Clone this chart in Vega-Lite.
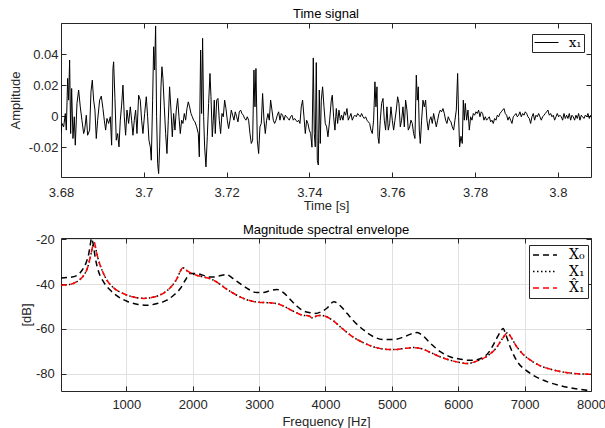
{
"$schema":"https://vega.github.io/schema/vega-lite/v6.json",
"padding":{"left":9,"top":7,"right":0,"bottom":0},
"background":"white",
"config":{
 "view":{"stroke":null},
 "font":"Liberation Sans",
 "axis":{"labelFont":"Liberation Sans","labelFontSize":13,"labelColor":"#262626","titleFont":"Liberation Sans","titleFontSize":13,"titleFontWeight":"normal","titleColor":"#262626","tickColor":"#262626","domainColor":"#262626","tickSize":-5,"grid":false,"labelFlush":false},
 "title":{"font":"Liberation Sans","fontSize":13,"fontWeight":"normal","color":"#000000","offset":7,"frame":"group"}
},
"datasets":{
"sig":[
{"t":3.68,"a":-0.0112},{"t":3.68023,"a":-0.0047},{"t":3.68064,"a":-0.0069},{"t":3.68104,"a":0.0017},{"t":3.68128,"a":-0.009},{"t":3.6816,"a":0.0243},{"t":3.68184,"a":0.0103},{"t":3.68208,"a":0.0361},{"t":3.68233,"a":-0.0112},{"t":3.68257,"a":0.0178},{"t":3.68289,"a":-0.0144},{"t":3.68321,"a":-0.0004},{"t":3.68345,"a":-0.0187},{"t":3.68386,"a":0.0082},{"t":3.68426,"a":0.0168},{"t":3.68466,"a":0.006},{"t":3.68506,"a":-0.0026},{"t":3.68547,"a":-0.0112},{"t":3.68571,"a":-0.009},{"t":3.68611,"a":0.0006},{"t":3.68643,"a":-0.0123},{"t":3.68691,"a":-0.009},{"t":3.68724,"a":0.0157},{"t":3.68756,"a":0.0232},{"t":3.68788,"a":0.0103},{"t":3.6882,"a":0.0039},{"t":3.68852,"a":-0.0144},{"t":3.68885,"a":-0.0026},{"t":3.68933,"a":0.0103},{"t":3.68973,"a":0.0129},{"t":3.69013,"a":0.0049},{"t":3.69046,"a":-0.0026},{"t":3.69078,"a":-0.009},{"t":3.6911,"a":-0.0015},{"t":3.6915,"a":-0.0047},{"t":3.69191,"a":-0.0004},{"t":3.69223,"a":-0.0187},{"t":3.69255,"a":0.0307},{"t":3.69271,"a":0.035},{"t":3.69303,"a":0.0114},{"t":3.69335,"a":-0.0155},{"t":3.69368,"a":-0.0112},{"t":3.694,"a":-0.0198},{"t":3.69432,"a":-0.0026},{"t":3.69464,"a":0.0071},{"t":3.69496,"a":0.02},{"t":3.69529,"a":-0.0004},{"t":3.69561,"a":-0.0123},{"t":3.69593,"a":0.0039},{"t":3.69633,"a":-0.0047},{"t":3.69674,"a":0.006},{"t":3.69706,"a":-0.0026},{"t":3.69738,"a":-0.0123},{"t":3.6977,"a":-0.0026},{"t":3.69802,"a":0.0039},{"t":3.69835,"a":-0.0112},{"t":3.69875,"a":0.0135},{"t":3.69915,"a":0.0103},{"t":3.69947,"a":-0.0026},{"t":3.69979,"a":-0.0112},{"t":3.7002,"a":0.0017},{"t":3.7006,"a":0.0125},{"t":3.70092,"a":-0.0004},{"t":3.70124,"a":-0.0155},{"t":3.70157,"a":-0.0198},{"t":3.70181,"a":-0.0284},{"t":3.70213,"a":0.0103},{"t":3.70237,"a":0.0447},{"t":3.70261,"a":0.0297},{"t":3.70285,"a":0.0581},{"t":3.70309,"a":-0.0004},{"t":3.70334,"a":-0.0305},{"t":3.70358,"a":-0.037},{"t":3.70382,"a":-0.0198},{"t":3.70414,"a":0.0189},{"t":3.70438,"a":0.0318},{"t":3.70462,"a":0.0243},{"t":3.70495,"a":0.006},{"t":3.70527,"a":-0.0112},{"t":3.70559,"a":-0.0241},{"t":3.70591,"a":-0.0026},{"t":3.70623,"a":0.0189},{"t":3.70656,"a":0.0039},{"t":3.70688,"a":-0.0133},{"t":3.7072,"a":0.0017},{"t":3.70752,"a":-0.009},{"t":3.70784,"a":0.0039},{"t":3.70817,"a":0.0114},{"t":3.70849,"a":-0.0004},{"t":3.70881,"a":-0.0112},{"t":3.70913,"a":-0.0026},{"t":3.70945,"a":-0.0047},{"t":3.70978,"a":0.0017},{"t":3.7101,"a":-0.0026},{"t":3.71042,"a":0.0049},{"t":3.71074,"a":0.0092},{"t":3.71106,"a":0.006},{"t":3.71139,"a":0.0017},{"t":3.71171,"a":-0.0004},{"t":3.71203,"a":-0.0026},{"t":3.71235,"a":-0.0037},{"t":3.71276,"a":-0.0069},{"t":3.71316,"a":-0.0112},{"t":3.7134,"a":-0.0262},{"t":3.71372,"a":0.0426},{"t":3.71396,"a":0.0017},{"t":3.7142,"a":0.0501},{"t":3.71445,"a":-0.0004},{"t":3.71469,"a":-0.0198},{"t":3.71501,"a":-0.0327},{"t":3.71533,"a":-0.0133},{"t":3.71565,"a":0.0082},{"t":3.71598,"a":0.0275},{"t":3.71622,"a":0.0125},{"t":3.71654,"a":-0.0133},{"t":3.71678,"a":-0.0026},{"t":3.71702,"a":0.0103},{"t":3.71726,"a":-0.0112},{"t":3.71759,"a":0.0103},{"t":3.71791,"a":0.0114},{"t":3.71823,"a":-0.0026},{"t":3.71855,"a":-0.0112},{"t":3.71887,"a":0.0017},{"t":3.7192,"a":-0.0004},{"t":3.71952,"a":0.0103},{"t":3.71984,"a":0.0049},{"t":3.72016,"a":-0.0026},{"t":3.72048,"a":-0.008},{"t":3.72081,"a":-0.0026},{"t":3.72113,"a":0.0039},{"t":3.72145,"a":0.0006},{"t":3.72177,"a":-0.0026},{"t":3.72209,"a":0.0028},{"t":3.72242,"a":-0.0004},{"t":3.72274,"a":-0.0037},{"t":3.72306,"a":0.0028},{"t":3.72338,"a":0.0039},{"t":3.7237,"a":0.0017},{"t":3.72403,"a":0.0006},{"t":3.72435,"a":-0.0015},{"t":3.72467,"a":-0.0026},{"t":3.72499,"a":-0.0004},{"t":3.72531,"a":-0.0026},{"t":3.72564,"a":-0.0112},{"t":3.72596,"a":-0.0176},{"t":3.72628,"a":-0.0155},{"t":3.7266,"a":0.0297},{"t":3.72684,"a":0.006},{"t":3.72708,"a":0.0307},{"t":3.72741,"a":-0.0155},{"t":3.72773,"a":-0.0241},{"t":3.72805,"a":-0.0069},{"t":3.72837,"a":-0.0047},{"t":3.72869,"a":0.0146},{"t":3.72902,"a":-0.0026},{"t":3.72934,"a":-0.0112},{"t":3.72966,"a":-0.0026},{"t":3.72998,"a":0.0017},{"t":3.7303,"a":-0.0026},{"t":3.73063,"a":0.0103},{"t":3.73095,"a":0.0039},{"t":3.73127,"a":-0.0026},{"t":3.73159,"a":-0.0047},{"t":3.73191,"a":-0.0026},{"t":3.73224,"a":0.0006},{"t":3.73256,"a":0.0028},{"t":3.73288,"a":-0.0026},{"t":3.7332,"a":0.0017},{"t":3.73352,"a":0.0006},{"t":3.73385,"a":-0.0026},{"t":3.73417,"a":0.0006},{"t":3.73449,"a":-0.0004},{"t":3.73481,"a":-0.0015},{"t":3.73513,"a":-0.0026},{"t":3.73546,"a":-0.0004},{"t":3.73578,"a":0.0006},{"t":3.7361,"a":-0.0026},{"t":3.73642,"a":-0.0015},{"t":3.73674,"a":-0.0026},{"t":3.73707,"a":-0.0037},{"t":3.73739,"a":-0.0026},{"t":3.73771,"a":-0.0047},{"t":3.73803,"a":0.006},{"t":3.73835,"a":0.0103},{"t":3.73868,"a":-0.0004},{"t":3.739,"a":-0.0112},{"t":3.73932,"a":-0.0026},{"t":3.73964,"a":-0.0047},{"t":3.73996,"a":-0.009},{"t":3.74029,"a":-0.0112},{"t":3.74061,"a":-0.02},{"t":3.74093,"a":0.0375},{"t":3.74117,"a":-0.0112},{"t":3.74141,"a":-0.0198},{"t":3.74165,"a":0.0345},{"t":3.7419,"a":-0.0284},{"t":3.74214,"a":-0.0315},{"t":3.74238,"a":0.0168},{"t":3.74262,"a":-0.0176},{"t":3.74286,"a":0.0103},{"t":3.74318,"a":0.0189},{"t":3.74351,"a":0.006},{"t":3.74383,"a":-0.0047},{"t":3.74415,"a":-0.0069},{"t":3.74447,"a":-0.0133},{"t":3.74488,"a":-0.0026},{"t":3.74528,"a":0.0103},{"t":3.74552,"a":0.0135},{"t":3.74584,"a":-0.0004},{"t":3.74616,"a":-0.009},{"t":3.74649,"a":0.0049},{"t":3.74681,"a":-0.0047},{"t":3.74713,"a":0.0039},{"t":3.74745,"a":-0.0026},{"t":3.74777,"a":0.0006},{"t":3.7481,"a":-0.0026},{"t":3.74842,"a":0.0028},{"t":3.74874,"a":0.0006},{"t":3.74906,"a":0.0049},{"t":3.74938,"a":-0.0026},{"t":3.74971,"a":-0.0004},{"t":3.75003,"a":0.0017},{"t":3.75035,"a":-0.0026},{"t":3.75067,"a":-0.0004},{"t":3.75099,"a":0.0006},{"t":3.75132,"a":-0.0004},{"t":3.75164,"a":0.0017},{"t":3.75196,"a":0.0006},{"t":3.75228,"a":-0.0004},{"t":3.7526,"a":0.0017},{"t":3.75293,"a":-0.0004},{"t":3.75325,"a":-0.0015},{"t":3.75357,"a":-0.0004},{"t":3.75389,"a":-0.0026},{"t":3.75421,"a":-0.0037},{"t":3.75454,"a":-0.0047},{"t":3.75486,"a":-0.009},{"t":3.75518,"a":-0.0112},{"t":3.7555,"a":-0.0026},{"t":3.75582,"a":0.0221},{"t":3.75606,"a":0.006},{"t":3.75631,"a":0.0189},{"t":3.75655,"a":-0.0133},{"t":3.75679,"a":-0.0176},{"t":3.75711,"a":-0.0026},{"t":3.75743,"a":0.0082},{"t":3.75776,"a":0.0114},{"t":3.75808,"a":-0.0026},{"t":3.7584,"a":-0.009},{"t":3.75872,"a":0.006},{"t":3.75904,"a":-0.009},{"t":3.75937,"a":-0.0047},{"t":3.75969,"a":0.006},{"t":3.76001,"a":-0.0026},{"t":3.76033,"a":-0.009},{"t":3.76065,"a":-0.0026},{"t":3.76098,"a":0.0039},{"t":3.7613,"a":0.0125},{"t":3.76162,"a":0.0082},{"t":3.76194,"a":-0.0069},{"t":3.76226,"a":-0.0026},{"t":3.76259,"a":0.006},{"t":3.76291,"a":-0.0069},{"t":3.76323,"a":0.0103},{"t":3.76355,"a":0.0039},{"t":3.76387,"a":-0.009},{"t":3.7642,"a":-0.0069},{"t":3.76452,"a":-0.0026},{"t":3.76484,"a":-0.0047},{"t":3.76516,"a":-0.0112},{"t":3.76548,"a":-0.0144},{"t":3.76581,"a":0.0264},{"t":3.76605,"a":0.0103},{"t":3.76629,"a":0.0189},{"t":3.76653,"a":-0.009},{"t":3.76677,"a":-0.0176},{"t":3.76709,"a":-0.0026},{"t":3.76742,"a":0.0103},{"t":3.76774,"a":0.006},{"t":3.76806,"a":0.0103},{"t":3.76838,"a":-0.0026},{"t":3.7687,"a":-0.009},{"t":3.76903,"a":-0.0026},{"t":3.76935,"a":-0.0004},{"t":3.76967,"a":-0.0047},{"t":3.76999,"a":0.0017},{"t":3.77031,"a":-0.0026},{"t":3.77064,"a":-0.0069},{"t":3.77096,"a":-0.0026},{"t":3.77128,"a":0.0017},{"t":3.7716,"a":0.0039},{"t":3.77192,"a":0.0028},{"t":3.77225,"a":0.0049},{"t":3.77257,"a":0.0017},{"t":3.77289,"a":-0.0026},{"t":3.77321,"a":-0.0047},{"t":3.77353,"a":-0.0004},{"t":3.77386,"a":-0.0026},{"t":3.77418,"a":-0.0037},{"t":3.7745,"a":-0.0069},{"t":3.77482,"a":-0.009},{"t":3.77514,"a":-0.0026},{"t":3.77547,"a":0.0039},{"t":3.77579,"a":0.0275},{"t":3.77603,"a":-0.0004},{"t":3.77627,"a":-0.0198},{"t":3.7766,"a":-0.013},{"t":3.77691,"a":-0.0176},{"t":3.77716,"a":0.0103},{"t":3.7774,"a":-0.0026},{"t":3.77764,"a":0.0082},{"t":3.77796,"a":-0.0026},{"t":3.77828,"a":0.0039},{"t":3.77861,"a":-0.009},{"t":3.77893,"a":-0.0004},{"t":3.77925,"a":-0.0026},{"t":3.77957,"a":0.0017},{"t":3.77989,"a":0.0006},{"t":3.78022,"a":0.0028},{"t":3.78054,"a":0.0017},{"t":3.78086,"a":0.0039},{"t":3.78118,"a":-0.0004},{"t":3.7815,"a":0.0028},{"t":3.78183,"a":0.0017},{"t":3.78215,"a":-0.0026},{"t":3.78247,"a":-0.0004},{"t":3.78279,"a":-0.0026},{"t":3.78311,"a":-0.0015},{"t":3.78344,"a":-0.0004},{"t":3.78376,"a":-0.0037},{"t":3.78408,"a":-0.0026},{"t":3.7844,"a":-0.0047},{"t":3.78472,"a":-0.0015},{"t":3.78505,"a":-0.0026},{"t":3.78537,"a":0.0006},{"t":3.78569,"a":-0.0004},{"t":3.78601,"a":0.0017},{"t":3.78633,"a":0.0028},{"t":3.78666,"a":0.0039},{"t":3.78698,"a":0.0049},{"t":3.7873,"a":0.0017},{"t":3.78762,"a":0.0006},{"t":3.78794,"a":-0.0026},{"t":3.78827,"a":-0.0004},{"t":3.78859,"a":-0.0026},{"t":3.78891,"a":-0.0047},{"t":3.78923,"a":-0.0004},{"t":3.78955,"a":0.0006},{"t":3.78988,"a":0.0017},{"t":3.7902,"a":-0.0004},{"t":3.79052,"a":0.0006},{"t":3.79084,"a":0.0028},{"t":3.79116,"a":-0.0004},{"t":3.79149,"a":0.0017},{"t":3.79181,"a":0.0006},{"t":3.79213,"a":0.0028},{"t":3.79245,"a":0.0017},{"t":3.79277,"a":-0.0004},{"t":3.7931,"a":-0.0015},{"t":3.79342,"a":-0.0047},{"t":3.79374,"a":-0.0004},{"t":3.79406,"a":0.0017},{"t":3.79438,"a":-0.0026},{"t":3.79471,"a":0.0006},{"t":3.79503,"a":-0.0004},{"t":3.79535,"a":0.0017},{"t":3.79567,"a":-0.0004},{"t":3.79599,"a":-0.0026},{"t":3.79632,"a":-0.0004},{"t":3.79664,"a":0.0006},{"t":3.79696,"a":0.0017},{"t":3.79728,"a":0.0028},{"t":3.7976,"a":0.0039},{"t":3.79793,"a":0.0006},{"t":3.79825,"a":0.0017},{"t":3.79857,"a":-0.0004},{"t":3.79889,"a":0.0006},{"t":3.79921,"a":-0.0026},{"t":3.79954,"a":-0.0004},{"t":3.79986,"a":0.0017},{"t":3.80018,"a":-0.0004},{"t":3.8005,"a":0.0006},{"t":3.80082,"a":-0.0004},{"t":3.80115,"a":-0.0026},{"t":3.80147,"a":0.0017},{"t":3.80179,"a":-0.0015},{"t":3.80211,"a":0.0006},{"t":3.80243,"a":-0.0015},{"t":3.80276,"a":0.0017},{"t":3.80308,"a":-0.0026},{"t":3.8034,"a":0.0006},{"t":3.80372,"a":-0.0004},{"t":3.80404,"a":-0.0026},{"t":3.80437,"a":0.0006},{"t":3.80469,"a":-0.0015},{"t":3.80501,"a":0.0017},{"t":3.80533,"a":-0.0026},{"t":3.80565,"a":0.0006},{"t":3.80598,"a":-0.0004},{"t":3.8063,"a":-0.0015},{"t":3.80662,"a":0.0006},{"t":3.80694,"a":-0.0004},{"t":3.80726,"a":0.0017},{"t":3.80759,"a":-0.0015},{"t":3.80791,"a":0.0006}
],
"env":[
{"f":15.6,"v":-37.3,"s":"X\u2080"},{"f":100,"v":-37.1,"s":"X\u2080"},{"f":158,"v":-37.0,"s":"X\u2080"},{"f":258,"v":-36.1,"s":"X\u2080"},{"f":333,"v":-33.8,"s":"X\u2080"},{"f":398,"v":-30.1,"s":"X\u2080"},{"f":434,"v":-26.4,"s":"X\u2080"},{"f":459,"v":-21.9,"s":"X\u2080"},{"f":474,"v":-19.5,"s":"X\u2080"},{"f":499,"v":-21.9,"s":"X\u2080"},{"f":534,"v":-28.6,"s":"X\u2080"},{"f":584,"v":-34.6,"s":"X\u2080"},{"f":659,"v":-39.1,"s":"X\u2080"},{"f":760,"v":-42.8,"s":"X\u2080"},{"f":860,"v":-45.3,"s":"X\u2080"},{"f":1010,"v":-47.7,"s":"X\u2080"},{"f":1160,"v":-49.0,"s":"X\u2080"},{"f":1311,"v":-49.5,"s":"X\u2080"},{"f":1461,"v":-48.7,"s":"X\u2080"},{"f":1611,"v":-47.2,"s":"X\u2080"},{"f":1712,"v":-45.0,"s":"X\u2080"},{"f":1812,"v":-42.0,"s":"X\u2080"},{"f":1887,"v":-38.3,"s":"X\u2080"},{"f":1962,"v":-35.3,"s":"X\u2080"},{"f":2063,"v":-35.3,"s":"X\u2080"},{"f":2150,"v":-36.0,"s":"X\u2080"},{"f":2250,"v":-36.8,"s":"X\u2080"},{"f":2330,"v":-36.8,"s":"X\u2080"},{"f":2420,"v":-36.2,"s":"X\u2080"},{"f":2510,"v":-35.8,"s":"X\u2080"},{"f":2610,"v":-37.6,"s":"X\u2080"},{"f":2715,"v":-39.8,"s":"X\u2080"},{"f":2840,"v":-42.3,"s":"X\u2080"},{"f":2964,"v":-43.8,"s":"X\u2080"},{"f":3065,"v":-43.8,"s":"X\u2080"},{"f":3165,"v":-42.9,"s":"X\u2080"},{"f":3265,"v":-42.4,"s":"X\u2080"},{"f":3366,"v":-43.8,"s":"X\u2080"},{"f":3466,"v":-46.8,"s":"X\u2080"},{"f":3567,"v":-49.8,"s":"X\u2080"},{"f":3667,"v":-52.0,"s":"X\u2080"},{"f":3767,"v":-52.8,"s":"X\u2080"},{"f":3850,"v":-53.1,"s":"X\u2080"},{"f":3925,"v":-52.5,"s":"X\u2080"},{"f":4025,"v":-50.7,"s":"X\u2080"},{"f":4126,"v":-47.9,"s":"X\u2080"},{"f":4226,"v":-49.8,"s":"X\u2080"},{"f":4327,"v":-53.2,"s":"X\u2080"},{"f":4428,"v":-56.6,"s":"X\u2080"},{"f":4578,"v":-60.6,"s":"X\u2080"},{"f":4729,"v":-63.6,"s":"X\u2080"},{"f":4880,"v":-64.8,"s":"X\u2080"},{"f":5031,"v":-64.8,"s":"X\u2080"},{"f":5182,"v":-63.6,"s":"X\u2080"},{"f":5308,"v":-62.1,"s":"X\u2080"},{"f":5383,"v":-61.7,"s":"X\u2080"},{"f":5459,"v":-62.9,"s":"X\u2080"},{"f":5584,"v":-66.6,"s":"X\u2080"},{"f":5735,"v":-70.3,"s":"X\u2080"},{"f":5886,"v":-72.6,"s":"X\u2080"},{"f":6037,"v":-73.6,"s":"X\u2080"},{"f":6188,"v":-74.1,"s":"X\u2080"},{"f":6339,"v":-73.3,"s":"X\u2080"},{"f":6465,"v":-70.3,"s":"X\u2080"},{"f":6565,"v":-65.1,"s":"X\u2080"},{"f":6640,"v":-61.1,"s":"X\u2080"},{"f":6676,"v":-59.9,"s":"X\u2080"},{"f":6716,"v":-62.6,"s":"X\u2080"},{"f":6792,"v":-68.8,"s":"X\u2080"},{"f":6892,"v":-74.8,"s":"X\u2080"},{"f":7018,"v":-78.5,"s":"X\u2080"},{"f":7144,"v":-81.0,"s":"X\u2080"},{"f":7345,"v":-83.7,"s":"X\u2080"},{"f":7546,"v":-85.5,"s":"X\u2080"},{"f":7747,"v":-86.7,"s":"X\u2080"},{"f":8000,"v":-87.7,"s":"X\u2080"},
{"f":15.6,"v":-40.5,"s":"X\u2081"},{"f":158,"v":-40.1,"s":"X\u2081"},{"f":283,"v":-38.3,"s":"X\u2081"},{"f":358,"v":-36.1,"s":"X\u2081"},{"f":419,"v":-32.4,"s":"X\u2081"},{"f":469,"v":-26.4,"s":"X\u2081"},{"f":499,"v":-22.4,"s":"X\u2081"},{"f":519,"v":-21.5,"s":"X\u2081"},{"f":539,"v":-24.2,"s":"X\u2081"},{"f":574,"v":-28.6,"s":"X\u2081"},{"f":634,"v":-33.8,"s":"X\u2081"},{"f":709,"v":-38.3,"s":"X\u2081"},{"f":810,"v":-41.7,"s":"X\u2081"},{"f":960,"v":-44.3,"s":"X\u2081"},{"f":1110,"v":-45.8,"s":"X\u2081"},{"f":1261,"v":-46.4,"s":"X\u2081"},{"f":1411,"v":-45.8,"s":"X\u2081"},{"f":1562,"v":-44.0,"s":"X\u2081"},{"f":1687,"v":-40.8,"s":"X\u2081"},{"f":1762,"v":-37.6,"s":"X\u2081"},{"f":1812,"v":-34.3,"s":"X\u2081"},{"f":1852,"v":-32.7,"s":"X\u2081"},{"f":1902,"v":-33.8,"s":"X\u2081"},{"f":1987,"v":-35.3,"s":"X\u2081"},{"f":2113,"v":-36.5,"s":"X\u2081"},{"f":2263,"v":-37.6,"s":"X\u2081"},{"f":2364,"v":-39.1,"s":"X\u2081"},{"f":2514,"v":-42.3,"s":"X\u2081"},{"f":2664,"v":-45.0,"s":"X\u2081"},{"f":2815,"v":-47.0,"s":"X\u2081"},{"f":2964,"v":-48.0,"s":"X\u2081"},{"f":3115,"v":-48.3,"s":"X\u2081"},{"f":3265,"v":-48.7,"s":"X\u2081"},{"f":3366,"v":-49.8,"s":"X\u2081"},{"f":3466,"v":-51.4,"s":"X\u2081"},{"f":3567,"v":-52.9,"s":"X\u2081"},{"f":3667,"v":-54.0,"s":"X\u2081"},{"f":3749,"v":-54.2,"s":"X\u2081"},{"f":3800,"v":-55.1,"s":"X\u2081"},{"f":3875,"v":-54.2,"s":"X\u2081"},{"f":3925,"v":-54.0,"s":"X\u2081"},{"f":4025,"v":-54.7,"s":"X\u2081"},{"f":4126,"v":-56.6,"s":"X\u2081"},{"f":4226,"v":-59.2,"s":"X\u2081"},{"f":4327,"v":-61.7,"s":"X\u2081"},{"f":4428,"v":-63.9,"s":"X\u2081"},{"f":4578,"v":-66.3,"s":"X\u2081"},{"f":4729,"v":-68.1,"s":"X\u2081"},{"f":4880,"v":-69.1,"s":"X\u2081"},{"f":5031,"v":-69.3,"s":"X\u2081"},{"f":5182,"v":-68.8,"s":"X\u2081"},{"f":5333,"v":-68.4,"s":"X\u2081"},{"f":5434,"v":-68.8,"s":"X\u2081"},{"f":5584,"v":-70.6,"s":"X\u2081"},{"f":5735,"v":-72.6,"s":"X\u2081"},{"f":5886,"v":-74.1,"s":"X\u2081"},{"f":6037,"v":-75.1,"s":"X\u2081"},{"f":6138,"v":-75.5,"s":"X\u2081"},{"f":6289,"v":-74.3,"s":"X\u2081"},{"f":6440,"v":-72.1,"s":"X\u2081"},{"f":6565,"v":-68.8,"s":"X\u2081"},{"f":6666,"v":-64.4,"s":"X\u2081"},{"f":6741,"v":-61.8,"s":"X\u2081"},{"f":6792,"v":-63.6,"s":"X\u2081"},{"f":6867,"v":-67.4,"s":"X\u2081"},{"f":6968,"v":-71.1,"s":"X\u2081"},{"f":7093,"v":-74.1,"s":"X\u2081"},{"f":7244,"v":-76.6,"s":"X\u2081"},{"f":7446,"v":-78.5,"s":"X\u2081"},{"f":7647,"v":-79.6,"s":"X\u2081"},{"f":7848,"v":-80.2,"s":"X\u2081"},{"f":8000,"v":-80.3,"s":"X\u2081"},
{"f":15.6,"v":-40.5,"s":"X\u0302\u2081"},{"f":158,"v":-40.1,"s":"X\u0302\u2081"},{"f":283,"v":-38.3,"s":"X\u0302\u2081"},{"f":358,"v":-36.1,"s":"X\u0302\u2081"},{"f":419,"v":-32.4,"s":"X\u0302\u2081"},{"f":469,"v":-26.4,"s":"X\u0302\u2081"},{"f":499,"v":-22.4,"s":"X\u0302\u2081"},{"f":519,"v":-21.5,"s":"X\u0302\u2081"},{"f":539,"v":-24.2,"s":"X\u0302\u2081"},{"f":574,"v":-28.6,"s":"X\u0302\u2081"},{"f":634,"v":-33.8,"s":"X\u0302\u2081"},{"f":709,"v":-38.3,"s":"X\u0302\u2081"},{"f":810,"v":-41.7,"s":"X\u0302\u2081"},{"f":960,"v":-44.3,"s":"X\u0302\u2081"},{"f":1110,"v":-45.8,"s":"X\u0302\u2081"},{"f":1261,"v":-46.4,"s":"X\u0302\u2081"},{"f":1411,"v":-45.8,"s":"X\u0302\u2081"},{"f":1562,"v":-44.0,"s":"X\u0302\u2081"},{"f":1687,"v":-40.8,"s":"X\u0302\u2081"},{"f":1762,"v":-37.6,"s":"X\u0302\u2081"},{"f":1812,"v":-34.3,"s":"X\u0302\u2081"},{"f":1852,"v":-32.7,"s":"X\u0302\u2081"},{"f":1902,"v":-33.8,"s":"X\u0302\u2081"},{"f":1987,"v":-35.3,"s":"X\u0302\u2081"},{"f":2113,"v":-36.5,"s":"X\u0302\u2081"},{"f":2263,"v":-37.6,"s":"X\u0302\u2081"},{"f":2364,"v":-39.1,"s":"X\u0302\u2081"},{"f":2514,"v":-42.3,"s":"X\u0302\u2081"},{"f":2664,"v":-45.0,"s":"X\u0302\u2081"},{"f":2815,"v":-47.0,"s":"X\u0302\u2081"},{"f":2964,"v":-48.0,"s":"X\u0302\u2081"},{"f":3115,"v":-48.3,"s":"X\u0302\u2081"},{"f":3265,"v":-48.7,"s":"X\u0302\u2081"},{"f":3366,"v":-49.8,"s":"X\u0302\u2081"},{"f":3466,"v":-51.4,"s":"X\u0302\u2081"},{"f":3567,"v":-52.9,"s":"X\u0302\u2081"},{"f":3667,"v":-54.0,"s":"X\u0302\u2081"},{"f":3749,"v":-54.2,"s":"X\u0302\u2081"},{"f":3800,"v":-55.1,"s":"X\u0302\u2081"},{"f":3875,"v":-54.2,"s":"X\u0302\u2081"},{"f":3925,"v":-54.0,"s":"X\u0302\u2081"},{"f":4025,"v":-54.7,"s":"X\u0302\u2081"},{"f":4126,"v":-56.6,"s":"X\u0302\u2081"},{"f":4226,"v":-59.2,"s":"X\u0302\u2081"},{"f":4327,"v":-61.7,"s":"X\u0302\u2081"},{"f":4428,"v":-63.9,"s":"X\u0302\u2081"},{"f":4578,"v":-66.3,"s":"X\u0302\u2081"},{"f":4729,"v":-68.1,"s":"X\u0302\u2081"},{"f":4880,"v":-69.1,"s":"X\u0302\u2081"},{"f":5031,"v":-69.3,"s":"X\u0302\u2081"},{"f":5182,"v":-68.8,"s":"X\u0302\u2081"},{"f":5333,"v":-68.4,"s":"X\u0302\u2081"},{"f":5434,"v":-68.8,"s":"X\u0302\u2081"},{"f":5584,"v":-70.6,"s":"X\u0302\u2081"},{"f":5735,"v":-72.6,"s":"X\u0302\u2081"},{"f":5886,"v":-74.1,"s":"X\u0302\u2081"},{"f":6037,"v":-75.1,"s":"X\u0302\u2081"},{"f":6138,"v":-75.5,"s":"X\u0302\u2081"},{"f":6289,"v":-74.3,"s":"X\u0302\u2081"},{"f":6440,"v":-72.1,"s":"X\u0302\u2081"},{"f":6565,"v":-68.8,"s":"X\u0302\u2081"},{"f":6666,"v":-64.4,"s":"X\u0302\u2081"},{"f":6741,"v":-61.8,"s":"X\u0302\u2081"},{"f":6792,"v":-63.6,"s":"X\u0302\u2081"},{"f":6867,"v":-67.4,"s":"X\u0302\u2081"},{"f":6968,"v":-71.1,"s":"X\u0302\u2081"},{"f":7093,"v":-74.1,"s":"X\u0302\u2081"},{"f":7244,"v":-76.6,"s":"X\u0302\u2081"},{"f":7446,"v":-78.5,"s":"X\u0302\u2081"},{"f":7647,"v":-79.6,"s":"X\u0302\u2081"},{"f":7848,"v":-80.2,"s":"X\u0302\u2081"},{"f":8000,"v":-80.3,"s":"X\u0302\u2081"}
]
},
"spacing":61,
"bounds":"flush",
"resolve":{"scale":{"x":"independent","y":"independent","color":"independent","strokeDash":"independent"},"legend":{"color":"independent","strokeDash":"independent"}},
"vconcat":[
{
 "width":530,"height":154,
 "title":{"text":"Time signal","dy":5},
 "data":{"name":"sig"},
 "layer":[
  {"mark":{"type":"line","strokeWidth":1,"clip":true},
   "encoding":{
    "x":{"field":"t","type":"quantitative","scale":{"domain":[3.68,3.808],"nice":false,"zero":false},"axis":{"values":[3.68,3.7,3.72,3.74,3.76,3.78,3.8],"format":"~g","labelPadding":14,"title":"Time [s]","titleX":265,"titleY":32,"titleBaseline":"alphabetic"}},
    "y":{"field":"a","type":"quantitative","scale":{"domain":[-0.0392,0.06],"nice":false,"zero":false},"axis":{"values":[-0.02,0,0.02,0.04],"format":"~g","labelExpr":"replace(datum.label,'\u2212','-')","labelPadding":8,"title":"Amplitude","titleX":-41.7,"titleY":77,"titleBaseline":"alphabetic"}},
    "color":{"datum":"x\u2081","type":"nominal","scale":{"range":["#000000"]},"legend":{"title":null,"orient":"none","legendX":471,"legendY":11,"symbolType":"M-2,0H2","symbolSize":144,"symbolOffset":6,"symbolStrokeWidth":1,"labelFont":"DejaVu Serif","labelFontSize":13,"labelColor":"#000000","strokeColor":"#262626","fillColor":"#ffffff","padding":2,"labelOffset":16}}
   }},
  {"mark":{"type":"line","opacity":0},
   "encoding":{
    "x":{"field":"t","type":"quantitative","scale":{"domain":[3.68,3.808],"nice":false,"zero":false},"axis":{"orient":"top","values":[3.68,3.7,3.72,3.74,3.76,3.78,3.8],"labels":false,"title":null}},
    "y":{"field":"a","type":"quantitative","scale":{"domain":[-0.0392,0.06],"nice":false,"zero":false},"axis":{"orient":"right","values":[-0.02,0,0.02,0.04],"labels":false,"title":null}}
   }}
 ],
 "resolve":{"axis":{"x":"independent","y":"independent"}}
},
{
 "width":530,"height":153,
 "title":{"text":"Magnitude spectral envelope","dy":11},
 "data":{"name":"env"},
 "layer":[
  {"mark":{"type":"line","strokeWidth":1.5,"interpolate":"monotone","clip":true},
   "encoding":{
    "x":{"field":"f","type":"quantitative","scale":{"domain":[15.6,8000],"nice":false,"zero":false},"axis":{"values":[1000,2000,3000,4000,5000,6000,7000,8000],"format":"d","grid":true,"gridColor":"#e0e0e0","labelPadding":12.6,"title":"Frequency [Hz]","titleX":265,"titleY":34,"titleBaseline":"alphabetic"}},
    "y":{"field":"v","type":"quantitative","scale":{"domain":[-87.8,-19.4],"nice":false,"zero":false},"axis":{"values":[-80,-60,-40,-20],"grid":true,"gridColor":"#e0e0e0","labelExpr":"replace(datum.label,'\u2212','-')","labelPadding":11.7,"title":"[dB]","titleX":-30.4,"titleY":76.5,"titleBaseline":"alphabetic"}},
    "color":{"field":"s","type":"nominal","scale":{"domain":["X\u2080","X\u2081","X\u0302\u2081"],"range":["#000000","#000000","#ff0000"]},"legend":{"title":null,"orient":"none","legendX":468,"legendY":7,"symbolType":"M-2,0H2","symbolSize":144,"symbolOffset":6,"symbolStrokeWidth":1.5,"labelFont":"DejaVu Serif","labelFontSize":14,"labelColor":"#000000","strokeColor":"#262626","fillColor":"#ffffff","padding":3,"labelOffset":17,"rowPadding":2.5}},
    "strokeDash":{"field":"s","type":"nominal","scale":{"domain":["X\u2080","X\u2081","X\u0302\u2081"],"range":[[6,4],[1.5,2.5],[6,4]]},"legend":{"title":null,"orient":"none","legendX":468,"legendY":7,"symbolType":"M-2,0H2","symbolSize":144,"symbolOffset":6,"symbolStrokeWidth":1.5,"labelFont":"DejaVu Serif","labelFontSize":14,"labelColor":"#000000","strokeColor":"#262626","fillColor":"#ffffff","padding":3,"labelOffset":17,"rowPadding":2.5}}
   }},
  {"mark":{"type":"line","opacity":0},
   "encoding":{
    "x":{"field":"f","type":"quantitative","scale":{"domain":[15.6,8000],"nice":false,"zero":false},"axis":{"orient":"top","values":[1000,2000,3000,4000,5000,6000,7000,8000],"labels":false,"title":null}},
    "y":{"field":"v","type":"quantitative","scale":{"domain":[-87.8,-19.4],"nice":false,"zero":false},"axis":{"orient":"right","values":[-80,-60,-40,-20],"labels":false,"title":null}}
   }}
 ],
 "resolve":{"axis":{"x":"independent","y":"independent"}}
}
]
}
